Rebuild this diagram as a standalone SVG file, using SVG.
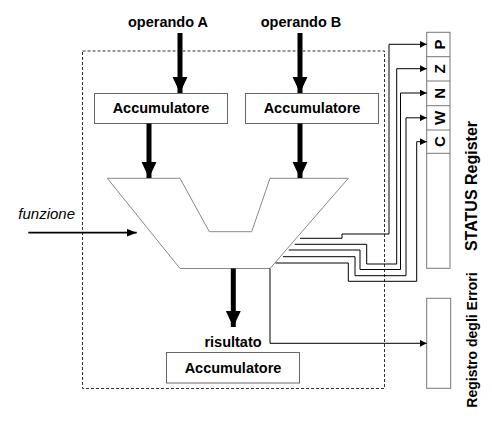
<svg xmlns="http://www.w3.org/2000/svg" width="492" height="422" viewBox="0 0 492 422">
<style>
.t{font-family:"Liberation Sans",Arial,sans-serif;font-weight:bold;font-size:14.5px;fill:#000}
.box{fill:#fff;stroke:#666;stroke-width:1}
.thick{stroke:#000;stroke-width:5;fill:none}
.thin{stroke:#000;stroke-width:1;fill:none}
</style>
<defs>
<marker id="big" markerUnits="userSpaceOnUse" markerWidth="16" markerHeight="16" refX="15" refY="7" orient="auto" viewBox="0 0 15 14"><path d="M0,0 L15,7 L0,14 Z" fill="#000"/></marker>
<marker id="small" markerUnits="userSpaceOnUse" markerWidth="7" markerHeight="7" refX="6" refY="3" orient="auto" viewBox="0 0 6 6"><path d="M0,0 L6,3 L0,6 Z" fill="#000"/></marker>
<marker id="mid" markerUnits="userSpaceOnUse" markerWidth="10" markerHeight="8" refX="9" refY="3.5" orient="auto" viewBox="0 0 9 7"><path d="M0,0 L9,3.5 L0,7 Z" fill="#000"/></marker>
</defs>
<rect id="boundary" x="82.5" y="51" width="302" height="337.5" fill="none" stroke="#333" stroke-width="1" stroke-dasharray="3,2"/>
<g id="alu"><polygon points="107.3,178.3 180,178.3 209.3,231.7 251.7,231.7 270,178.3 348.3,178.3 270,268.5 180,268.5" fill="#fff" stroke="#888" stroke-width="1"/></g>
<g id="accA"><rect class="box" x="94.5" y="93.5" width="133" height="30"/><text class="t" x="161" y="113.3" text-anchor="middle">Accumulatore</text></g>
<g id="accB"><rect class="box" x="245.5" y="93.5" width="133" height="30"/><text class="t" x="312" y="113.3" text-anchor="middle">Accumulatore</text></g>
<g id="accR"><rect class="box" x="166.5" y="352.5" width="133" height="30.5"/><text class="t" x="233" y="372.7" text-anchor="middle">Accumulatore</text></g>
<g id="opA"><text class="t" x="168" y="27.3" text-anchor="middle">operando A</text></g>
<g id="opB"><text class="t" x="301" y="27.3" text-anchor="middle">operando B</text></g>
<g id="ris"><text class="t" x="233" y="347.3" text-anchor="middle">risultato</text></g>
<g id="fun"><text x="18.3" y="219.3" font-family="'Liberation Sans',Arial,sans-serif" font-style="italic" font-size="15">funzione</text></g>
<g id="status">
<rect x="426.7" y="32.3" width="23.3" height="236" fill="#fff" stroke="#777" stroke-width="1"/>
<path d="M426.7,56.7H450M426.7,81H450M426.7,105.7H450M426.7,130H450M426.7,153.3H450" stroke="#777" stroke-width="1"/>
<g class="t" style="font-size:15px" text-anchor="middle">
<text transform="translate(444.5,44.5) rotate(-90)">P</text>
<text transform="translate(444.5,68.8) rotate(-90)">Z</text>
<text transform="translate(444.5,93.3) rotate(-90)">N</text>
<text transform="translate(444.5,117.8) rotate(-90)">W</text>
<text transform="translate(444.5,141.7) rotate(-90)">C</text>
</g>
<text class="t" style="font-size:16px" text-anchor="middle" transform="translate(477,186) rotate(-90)">STATUS Register</text>
</g>
<g id="errori">
<rect x="426.7" y="298.3" width="24" height="90" fill="#fff" stroke="#777" stroke-width="1"/>
<text class="t" style="font-size:14px" text-anchor="middle" transform="translate(477,340) rotate(-90)">Registro degli Errori</text>
</g>
<g id="connectors">
<line class="thick" x1="180" y1="33" x2="180" y2="93" marker-end="url(#big)"/>
<line class="thick" x1="300" y1="33" x2="300" y2="93" marker-end="url(#big)"/>
<line class="thick" x1="149" y1="123.5" x2="149" y2="178" marker-end="url(#big)"/>
<line class="thick" x1="300" y1="123.5" x2="300" y2="178" marker-end="url(#big)"/>
<line class="thick" x1="233.3" y1="268.5" x2="233.3" y2="327" marker-end="url(#big)"/>
<line x1="28.3" y1="232.7" x2="136.7" y2="232.7" stroke="#000" stroke-width="1.7" marker-end="url(#mid)"/>
<polyline class="thin" points="300,238.3 342,238.3 342,234 389,234 389,44.3 426.7,44.3" marker-end="url(#small)"/>
<polyline class="thin" points="294.7,244.3 366.7,244.3 366.7,264 396.7,264 396.7,68.7 426.7,68.7" marker-end="url(#small)"/>
<polyline class="thin" points="288.7,250 360,250 360,269.5 400.5,269.5 400.5,93 426.7,93" marker-end="url(#small)"/>
<polyline class="thin" points="283,256.7 355,256.7 355,275.7 406,275.7 406,117.8 426.7,117.8" marker-end="url(#small)"/>
<polyline class="thin" points="275.5,263 348.3,263 348.3,281.3 416.7,281.3 416.7,141.7 426.7,141.7" marker-end="url(#small)"/>
<polyline class="thin" points="270,268.5 270,343.3 426.7,343.3" stroke="#333" marker-end="url(#small)"/>
</g>
</svg>
